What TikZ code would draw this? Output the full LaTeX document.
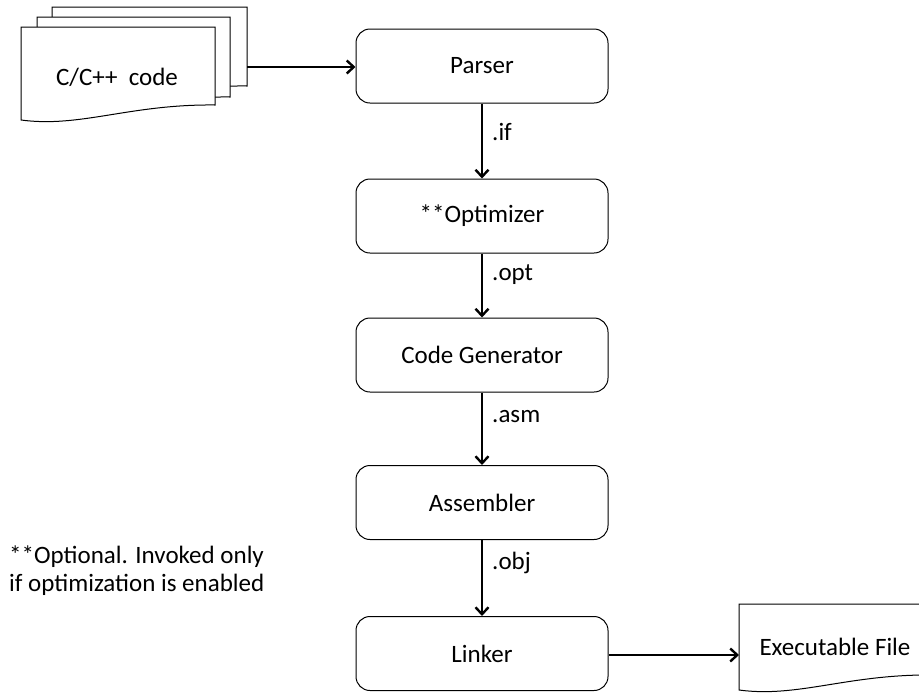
\documentclass[tikz,border=0pt]{standalone}
\usepackage{fontspec}
\setmainfont{Carlito}
\usetikzlibrary{arrows.meta}
\begin{document}
\begin{tikzpicture}[x=1pt,y=-1pt,
  big/.style={font=\fontsize{25}{28}\selectfont},
  stage/.style={big, draw, line width=1pt, rounded corners=14pt,
    minimum width=252pt, minimum height=74pt, fill=white},
  flow/.style={line width=2.4pt,
    -{Straight Barb[length=7pt,width=13pt,line width=2.4pt]}},
  lbl/.style={big, anchor=west, inner sep=2pt},
  page/.style={draw, line width=1pt, fill=white}]
\clip (0,0) rectangle (919,697);

% stacked source documents
\draw[page] (52,7) -- (247,7) -- (247,86)
  .. controls (161,85) and (111,109) .. (52,101) -- cycle;
\draw[page] (37,17) -- (230,17) -- (230,97)
  .. controls (146,96) and (96,120) .. (37,112) -- cycle;
\draw[page] (21,27) -- (215,27) -- (215,105)
  .. controls (130,104) and (80,128) .. (21,120) -- cycle;
\node[big] (src) at (117,77) {C/C++\ \ code};
\coordinate (srcout) at (247,67);

% compiler stages
\node[stage] (parser) at (482,66)    {Parser};
\node[stage] (opt)    at (482,216)   {**Optimizer};
\node[stage] (cg)     at (482,355)   {Code Generator};
\node[stage] (asm)    at (482,502.5) {Assembler};
\node[stage] (link)   at (482,653.5) {Linker};

% output document
\draw[page] (933,604) -- (739,604) -- (739,690)
  .. controls (798,698) and (848,674) .. (933,675);
\node[big] (exe) at (835,647) {Executable File};
\coordinate (exein) at (739,655);

% connectors
\draw[flow] (srcout) -- (parser.west |- srcout);
\draw[flow] (parser) -- (opt);
\draw[flow] (opt) -- (cg);
\draw[flow] (cg) -- (asm);
\draw[flow] (asm) -- (link);
\draw[flow] (link.east |- exein) -- (exein);

% file extensions on the connectors
\node[lbl] (lif)  at (490,132) {.if};
\node[lbl] (lopt) at (490,275) {.opt};
\node[lbl] (lasm) at (490,417) {.asm};
\node[lbl] (lobj) at (490,563) {.obj};

% footnote
\node[big, anchor=west, align=left, inner sep=0pt] (note) at (9,571)
  {**Optional. Invoked only\\if optimization is enabled};
\end{tikzpicture}
\end{document}
